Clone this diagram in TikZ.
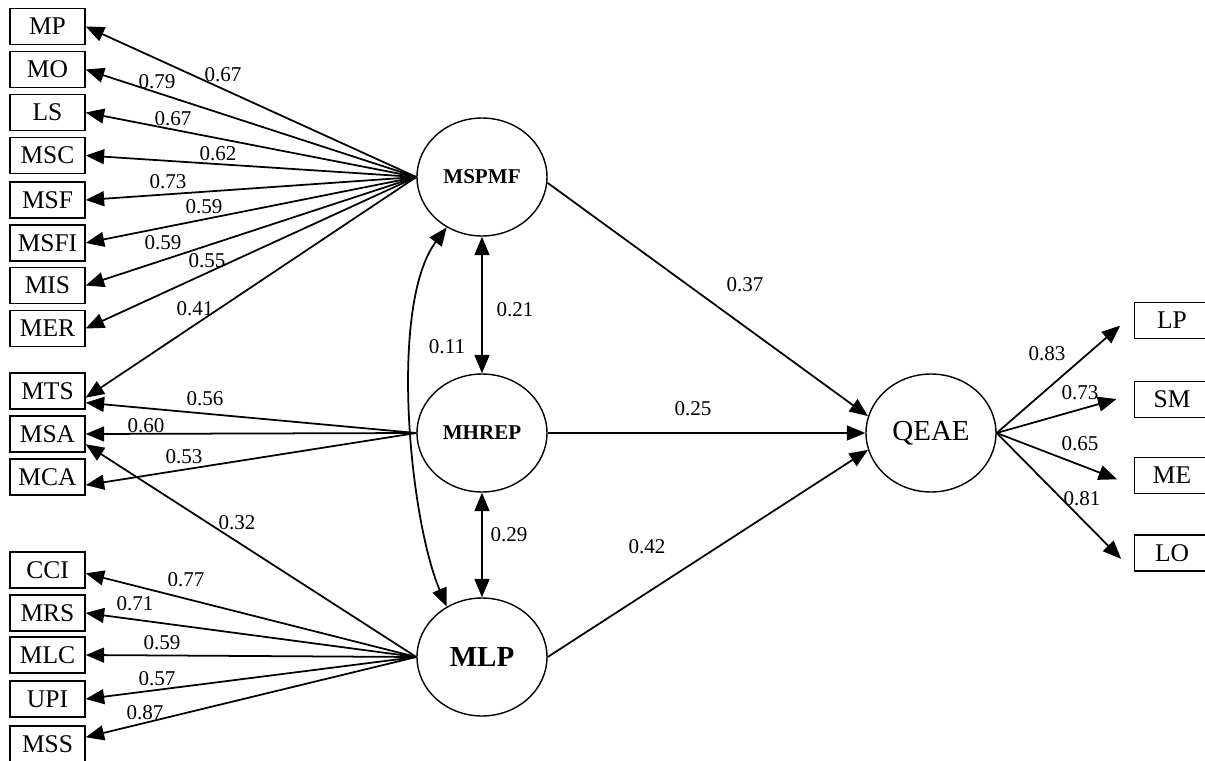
\documentclass[tikz,border=0pt]{standalone}
\usepackage{fontspec}
\setmainfont{Liberation Serif}
\usetikzlibrary{arrows.meta,shapes.geometric}

\tikzset{
  ind/.style={draw, rectangle, line width=0.8pt, minimum width=1.5cm, minimum height=0.72cm,
    inner sep=0pt, font=\fontsize{14.5}{16}\selectfont},
  lat/.style={draw, ellipse, line width=0.8pt, minimum width=2.6cm, minimum height=2.36cm, inner sep=0pt},
  est/.style={inner sep=1pt, font=\fontsize{12}{14}\selectfont},
  gap/.style={shorten >=0.36cm}
}

\begin{document}
\begin{tikzpicture}[x=0.02cm, y=-0.02cm, >={Triangle[length=10.5pt,width=8.5pt]}, line width=1pt]
    \useasboundingbox (0,0) rectangle (1205,761);

    % Latent variables
    \node[lat, font=\bfseries\fontsize{12}{14}\selectfont] (MSPMF) at (482,177) {MSPMF};
    \node[lat, font=\bfseries\fontsize{12}{14}\selectfont] (MHREP) at (482,433) {MHREP};
    \node[lat, font=\bfseries\fontsize{16.5}{18}\selectfont] (MLP) at (482,657) {MLP};
    \node[lat, font=\fontsize{16.5}{18}\selectfont] (QEAE) at (931,433) {QEAE};

    % Indicators, left
    \node[ind] (MP) at (47.5,26.5) {MP};
    \node[ind] (MO) at (47.5,69.5) {MO};
    \node[ind] (LS) at (47.5,112.5) {LS};
    \node[ind] (MSC) at (47.5,155.5) {MSC};
    \node[ind] (MSF) at (47.5,200) {MSF};
    \node[ind] (MSFI) at (47.5,243) {MSFI};
    \node[ind] (MIS) at (47.5,285.5) {MIS};
    \node[ind] (MER) at (47.5,328.5) {MER};
    \node[ind] (MTS) at (47.5,391) {MTS};
    \node[ind] (MSA) at (47.5,434) {MSA};
    \node[ind] (MCA) at (47.5,477) {MCA};
    \node[ind] (CCI) at (47.5,570) {CCI};
    \node[ind] (MRS) at (47.5,613) {MRS};
    \node[ind] (MLC) at (47.5,655) {MLC};
    \node[ind] (UPI) at (47.5,699) {UPI};
    \node[ind] (MSS) at (47.5,744) {MSS};

    % Indicators, right
    \node[ind] (LP) at (1172,320.5) {LP};
    \node[ind] (SM) at (1172,399.5) {SM};
    \node[ind] (ME) at (1172,475.5) {ME};
    \node[ind] (LO) at (1172,553) {LO};

    % Loadings of MSPMF
    \draw[->] (MSPMF.west) -- (MP.east);
    \draw[->] (MSPMF.west) -- (MO.east);
    \draw[->] (MSPMF.west) -- (LS.east);
    \draw[->] (MSPMF.west) -- (MSC.east);
    \draw[->] (MSPMF.west) -- (MSF.east);
    \draw[->] (MSPMF.west) -- (MSFI.east);
    \draw[->] (MSPMF.west) -- (MIS.east);
    \draw[->] (MSPMF.west) -- (MER.east);
    \draw[->] (MSPMF.west) -- (MTS.-10);

    % Loadings of MHREP
    \draw[->] (MHREP.west) -- (MTS.-17);
    \draw[->] (MHREP.west) -- (MSA.east);
    \draw[->] (MHREP.west) -- (MCA.-12);

    % Loadings of MLP
    \draw[->] (MLP.west) -- (MSA.-15);
    \draw[->] (MLP.west) -- (CCI.-5);
    \draw[->] (MLP.west) -- (MRS.east);
    \draw[->] (MLP.west) -- (MLC.east);
    \draw[->] (MLP.west) -- (UPI.east);
    \draw[->] (MLP.west) -- (MSS.10);

    % Correlations
    \draw[<->] (MSPMF.south) -- (MHREP.north);
    \draw[<->] (MHREP.south) -- (MLP.north);
    \draw[<->] (MSPMF.235) to[out=233, in=113, looseness=0.65] (MLP.125);

    % Paths to QEAE
    \draw[->] (MSPMF.-5) -- (QEAE.165);
    \draw[->] (MHREP.east) -- (QEAE.west);
    \draw[->] (MLP.east) -- (QEAE.195);

    % Loadings of QEAE
    \draw[->, gap] (QEAE.east) -- (LP.170);
    \draw[->, gap] (QEAE.east) -- (SM.172);
    \draw[->, gap] (QEAE.east) -- (ME.195);
    \draw[->, gap] (QEAE.east) -- (LO.south west);

    % Estimates
    \node[est] (wMP) at (223,75) {0.67};
    \node[est] (wMO) at (157,82) {0.79};
    \node[est] (wLS) at (173,119) {0.67};
    \node[est] (wMSC) at (218,154) {0.62};
    \node[est] (wMSF) at (168,182) {0.73};
    \node[est] (wMSFI) at (204,207) {0.59};
    \node[est] (wMIS) at (163,243) {0.59};
    \node[est] (wMER) at (207,261) {0.55};
    \node[est] (wMTS) at (195,309) {0.41};
    \node[est] (hMTS) at (205,399) {0.56};
    \node[est] (hMSA) at (146,426) {0.60};
    \node[est] (hMCA) at (184,457) {0.53};
    \node[est] (pMSA) at (237,523) {0.32};
    \node[est] (pCCI) at (186,580) {0.77};
    \node[est] (pMRS) at (135,604) {0.71};
    \node[est] (pMLC) at (162,643) {0.59};
    \node[est] (pUPI) at (157,679) {0.57};
    \node[est] (pMSS) at (145,713) {0.87};
    \node[est] (r12) at (515,310) {0.21};
    \node[est] (r13) at (447,347) {0.11};
    \node[est] (r23) at (509,535) {0.29};
    \node[est] (bMSPMF) at (745,285) {0.37};
    \node[est] (bMHREP) at (693,409) {0.25};
    \node[est] (bMLP) at (647,547) {0.42};
    \node[est] (qLP) at (1047,354) {0.83};
    \node[est] (qSM) at (1080,393) {0.73};
    \node[est] (qME) at (1080,444) {0.65};
    \node[est] (qLO) at (1082,499) {0.81};
\end{tikzpicture}
\end{document}
